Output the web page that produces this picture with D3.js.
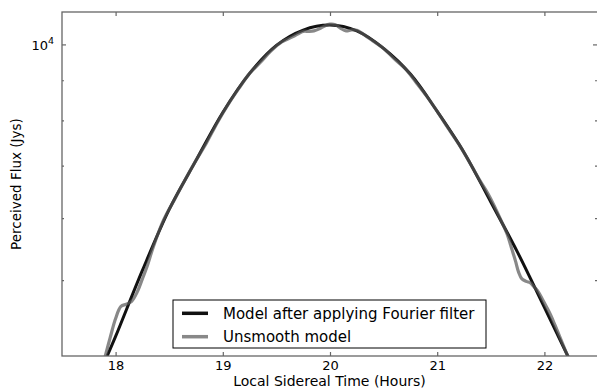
<!DOCTYPE html>
<html><head><meta charset="utf-8">
<script src="https://cdn.jsdelivr.net/npm/d3@7"></script>
<style>
body{margin:0;background:#fff}
text{font-family:"DejaVu Sans",sans-serif;fill:#000}
</style>
</head><body>
<svg id="chart" width="597" height="388"></svg>
<script>
const xTicks = [18, 19, 20, 21, 22];
const yMajorTicks = [10000];
const yMinorTicks = [5000, 6000, 7000, 8000, 9000];
const seriesNames = ["Model after applying Fourier filter", "Unsmooth model"];

const smoothHours = [17.88,17.92,18.0,18.25,18.5,18.75,19.0,19.25,19.5,19.75,20.0,20.25,20.5,20.75,21.0,21.25,21.5,21.75,22.0,22.22,22.25];
const smoothFlux  = [3873,3995,4237,5145,6156,7110,8187,9183,9971,10430,10584,10405,9883,9164,8212,7279,6291,5425,4614,3995,3918];

const rawHours = [17.88,17.90,17.95,18.00,18.05,18.10,18.15,18.20,18.25,18.30,18.35,18.45,18.55,18.65,18.75,18.85,18.95,19.05,19.15,19.25,19.35,19.45,19.55,19.65,19.75,19.80,19.85,19.90,19.95,20.00,20.05,20.10,20.15,20.20,20.25,20.30,20.40,20.50,20.60,20.70,20.80,20.90,21.00,21.10,21.20,21.30,21.35,21.40,21.45,21.50,21.55,21.60,21.65,21.70,21.73,21.76,21.79,21.83,21.87,21.90,21.94,21.98,22.02,22.06,22.10,22.14,22.18,22.22,22.25];
const rawFlux  = [3894,3983,4225,4467,4628,4658,4699,4823,5018,5236,5505,5977,6339,6723,7110,7496,7950,8383,8786,9183,9484,9811,10074,10223,10390,10390,10405,10466,10559,10612,10596,10482,10405,10436,10426,10329,10103,9883,9583,9319,8956,8595,8212,7823,7463,7078,6883,6694,6529,6349,6147,5942,5736,5457,5291,5115,5018,4981,4959,4908,4837,4731,4621,4507,4376,4243,4114,3995,3920];

const L = 62, R = 598, T = 12, B = 356;
const svg = d3.select("#chart");
const x = d3.scaleLinear().domain([17.5, 22.5]).range([L, R]);
const y = d3.scaleLog().domain([4000, 11000]).range([B, T]);

svg.append("defs").append("clipPath").attr("id", "clip")
  .append("rect").attr("x", L).attr("y", T).attr("width", R - L).attr("height", B - T);

const smooth = smoothHours.map((h, i) => ({h, f: smoothFlux[i]}));
const raw = rawHours.map((h, i) => ({h, f: rawFlux[i]}));
const line = d3.line().x(d => x(d.h)).y(d => y(d.f)).curve(d3.curveCatmullRom.alpha(0.5));

const g = svg.append("g").attr("clip-path", "url(#clip)");
g.append("path").datum(smooth).attr("d", line)
  .attr("fill", "none").attr("stroke", "#111").attr("stroke-width", 3);
g.append("path").datum(raw).attr("d", line)
  .attr("fill", "none").attr("stroke", "#555").attr("stroke-opacity", 0.7).attr("stroke-width", 3.2);

// frame
svg.append("rect").attr("x", L).attr("y", T).attr("width", R - L).attr("height", B - T)
  .attr("fill", "none").attr("stroke", "#666").attr("stroke-width", 1.3);

function styleAxis(sel) {
  sel.select(".domain").remove();
  sel.selectAll(".tick line").attr("stroke", "#666").attr("stroke-width", 1.2);
}

svg.append("g").attr("transform", `translate(0,${B})`)
  .call(d3.axisBottom(x).tickValues(xTicks).tickSize(-4).tickPadding(4.5).tickFormat(d3.format("d")))
  .call(styleAxis)
  .call(s => s.selectAll("text").attr("font-size", 13).attr("font-family", "DejaVu Sans").attr("fill", "#000"));
svg.append("g").attr("transform", `translate(0,${T})`)
  .call(d3.axisTop(x).tickValues(xTicks).tickSize(-4).tickFormat(""))
  .call(styleAxis);

svg.append("g").attr("transform", `translate(${L},0)`)
  .call(d3.axisLeft(y).tickValues(yMajorTicks).tickSize(-4).tickFormat(""))
  .call(styleAxis);
svg.append("g").attr("transform", `translate(${L},0)`)
  .call(d3.axisLeft(y).tickValues(yMinorTicks).tickSize(-2).tickFormat(""))
  .call(styleAxis);
svg.append("g").attr("transform", `translate(${R - 1},0)`)
  .call(d3.axisRight(y).tickValues(yMajorTicks).tickSize(-4).tickFormat(""))
  .call(styleAxis);
svg.append("g").attr("transform", `translate(${R - 1},0)`)
  .call(d3.axisRight(y).tickValues(yMinorTicks).tickSize(-2).tickFormat(""))
  .call(styleAxis);

// 10^4 label
yMajorTicks.forEach(v => {
  const t = svg.append("text").attr("x", 54).attr("y", y(v) + 5.5)
    .attr("text-anchor", "end").attr("font-size", 13);
  t.append("tspan").text("10");
  t.append("tspan").attr("font-size", 9.5).attr("dy", -6).text(Math.round(Math.log10(v)));
});

// axis labels
svg.append("text").attr("x", (L + R) / 2 - 0.5).attr("y", 385.5)
  .attr("text-anchor", "middle").attr("font-size", 14).text("Local Sidereal Time (Hours)");
svg.append("text").attr("transform", `translate(21,${(T + B) / 2}) rotate(-90)`)
  .attr("text-anchor", "middle").attr("font-size", 13.5).text("Perceived Flux (Jys)");

// legend
const lg = svg.append("g");
lg.append("rect").attr("x", 173).attr("y", 300).attr("width", 313).attr("height", 48)
  .attr("fill", "#fff").attr("stroke", "#000").attr("stroke-width", 1);
const legendStyles = [{stroke: "#111", op: 1}, {stroke: "#555", op: 0.7}];
seriesNames.forEach((name, i) => {
  const cy = 313.3 + i * 23.4;
  lg.append("line").attr("x1", 182).attr("x2", 208).attr("y1", cy).attr("y2", cy)
    .attr("stroke", legendStyles[i].stroke).attr("stroke-opacity", legendStyles[i].op).attr("stroke-width", 3.5);
  lg.append("text").attr("x", 223).attr("y", cy + 5.2).attr("font-size", 15).text(name);
});
</script>
</body></html>
